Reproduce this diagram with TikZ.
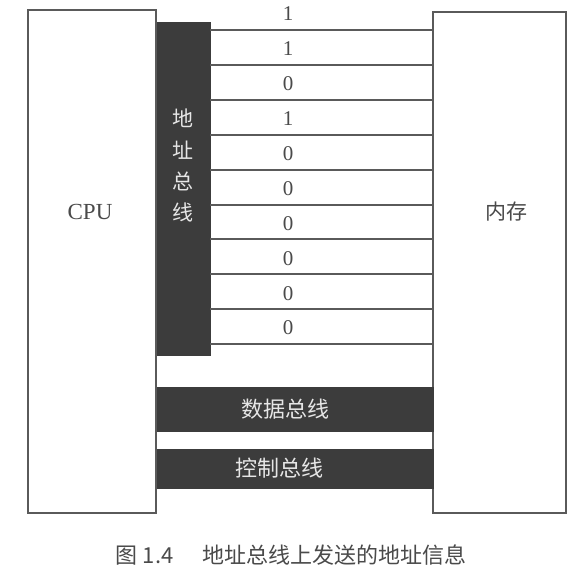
\documentclass[tikz,border=0pt]{standalone}
\usepackage{fontspec}
\setmainfont{Liberation Serif}
\newfontfamily\cjk{Noto Sans CJK SC}
\definecolor{barfill}{HTML}{3C3C3C}
\definecolor{edgegray}{HTML}{5A5A5A}
\definecolor{txtgray}{HTML}{4A4A4A}
\definecolor{bartext}{HTML}{E6E6E6}
\tikzset{
  unitbox/.style={draw=edgegray, line width=1.6pt, fill=white, inner sep=0pt, outer sep=0pt},
  busbar/.style={fill=barfill, draw=barfill, line width=0.8pt, inner sep=0pt, outer sep=0pt},
  sigline/.style={draw=edgegray, line width=2pt},
  digit/.style={text=txtgray, font=\fontsize{21}{21}\selectfont, inner sep=0pt},
  bigtext/.style={text=txtgray, inner sep=0pt},
  bartxt/.style={text=bartext, font=\cjk\fontsize{22}{22}\selectfont, inner sep=0pt},
}
\begin{document}
\begin{tikzpicture}[x=1pt,y=-1pt]
\useasboundingbox (0,0) rectangle (586,586);
\fill[white] (0,0) rectangle (586,586);
% units
\node[unitbox, minimum width=128pt, minimum height=503pt] (cpu) at (92,261.5) {};
\node[unitbox, minimum width=133pt, minimum height=501pt] (mem) at (499.5,262.5) {};
% buses
\node[busbar, minimum width=53pt, minimum height=333pt] (addr) at (183.5,188.5) {};
\node[busbar, minimum width=276pt, minimum height=44pt] (data) at (295,409) {};
\node[busbar, minimum width=276pt, minimum height=39pt] (ctrl) at (295,468.5) {};
% labels
\node[bigtext, font=\fontsize{23}{23}\selectfont] (cpulabel) at (90,212) {CPU};
\node[bigtext, font=\cjk\fontsize{21}{21}\selectfont] (memlabel) at (506,212) {内存};
\node[bartxt, font=\cjk\fontsize{21}{21}\selectfont] (a1) at (183,118) {地};
\node[bartxt, font=\cjk\fontsize{21}{21}\selectfont] (a2) at (183,150) {址};
\node[bartxt, font=\cjk\fontsize{21}{21}\selectfont] (a3) at (183,181) {总};
\node[bartxt, font=\cjk\fontsize{21}{21}\selectfont] (a4) at (183,212) {线};
\node[bartxt] (datalabel) at (285,409) {数据总线};
\node[bartxt] (ctrllabel) at (279,468) {控制总线};
% address lines
\foreach \k/\v in {0/1,1/1,2/0,3/1,4/0,5/0,6/0,7/0,8/0,9/0}{
  \coordinate (l\k) at (addr.east |- {(0,30+34.9*\k)});
  \draw[sigline] (l\k) -- (l\k -| mem.west);
  \node[digit] (d\k) at (288,{30+34.9*\k-16}) {\v};
}
% caption
\node[text=txtgray, font=\cjk\fontsize{22}{22}\selectfont, inner sep=0pt] (caption) at (291,555) {图 1.4\hspace{1.3em}地址总线上发送的地址信息};
\end{tikzpicture}
\end{document}
